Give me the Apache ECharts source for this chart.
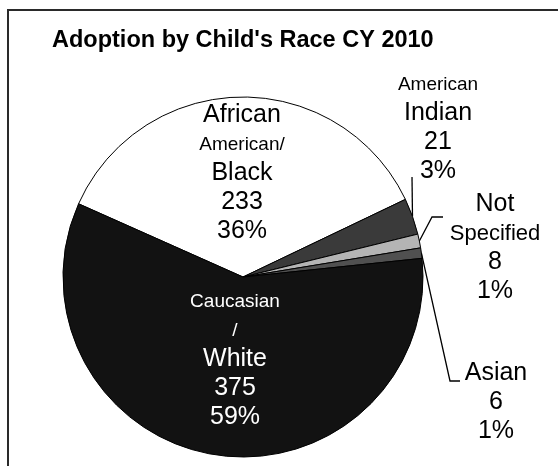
<!DOCTYPE html>
<html>
<head>
<meta charset="utf-8">
<script src="https://cdn.jsdelivr.net/npm/echarts@6/dist/echarts.min.js"></script>
<style>
  html, body { margin: 0; padding: 0; background: #fff; }
  #chart { width: 558px; height: 466px; }
</style>
</head>
<body>
<div id="chart"></div>
<script>
// Adoptions in calendar year 2010, by the child's race
const categories = ['African American/Black', 'American Indian', 'Not Specified', 'Asian', 'Caucasian/White'];
const labelNames = ['African\nAmerican/\nBlack', 'American\nIndian', 'Not\nSpecified', 'Asian', 'Caucasian\n/\nWhite'];
const adoptions = [233, 21, 8, 6, 375];

// Presentation settings (kept apart from the data)
const sliceColors = ['#ffffff', '#3a3a3a', '#b4b4b4', '#505050', '#121212'];
const textColors = ['#000', '#000', '#000', '#000', '#fff'];
const nameLineSizes = [['b', 's', 'b'], ['s', 'b'], ['b', 'm'], ['b'], ['s', 's', 'b']];
const labelAnchors = [[242, 101], [438, 70], [495, 190], [496, 359], [235, 287]];
const leaderBends = [null, [[412, 177], [412, 177]], [[432, 217], [443, 217]], [[450, 381], [460, 381]], null];

const FONT = '"Liberation Sans", Arial, sans-serif';

// Whole-number percentages that add up to 100 (largest remainder method)
function wholePercents(values) {
  const total = values.reduce((a, b) => a + b, 0);
  const exact = values.map(v => v / total * 100);
  const seats = exact.map(Math.floor);
  let left = 100 - seats.reduce((a, b) => a + b, 0);
  const order = exact.map((e, i) => [e - Math.floor(e), i]).sort((a, b) => b[0] - a[0]);
  for (let k = 0; k < left; k++) seats[order[k][1]] += 1;
  return seats;
}
const shares = wholePercents(adoptions);

function richFor(color) {
  return {
    s: { fontSize: 19, lineHeight: 29, color: color, fontFamily: FONT, align: 'center' },
    m: { fontSize: 22, lineHeight: 29, color: color, fontFamily: FONT, align: 'center' },
    b: { fontSize: 25, lineHeight: 29, color: color, fontFamily: FONT, align: 'center' }
  };
}

const data = categories.map((name, i) => ({
  name: name,
  value: adoptions[i],
  itemStyle: { color: sliceColors[i] },
  label: { rich: richFor(textColors[i]) },
  labelLine: { show: leaderBends[i] !== null, lineStyle: { color: '#000', width: 1.3 } }
}));

const chart = echarts.init(document.getElementById('chart'), null, { renderer: 'canvas' });

chart.setOption({
  backgroundColor: '#ffffff',
  animation: false,
  graphic: [
    {
      type: 'rect',
      shape: { x: 8, y: 10, width: 580, height: 500 },
      style: { fill: 'none', stroke: '#2a2a2a', lineWidth: 2 },
      silent: true
    },
    {
      type: 'text',
      left: 52,
      top: 29,
      style: {
        text: "Adoption by Child's Race CY 2010",
        font: 'bold 23.5px ' + FONT,
        fill: '#000'
      }
    }
  ],
  series: [{
    type: 'pie',
    center: [243, 277],
    radius: 180,
    startAngle: 156,
    clockwise: true,
    avoidLabelOverlap: false,
    itemStyle: { borderColor: '#000', borderWidth: 1 },
    label: {
      show: true,
      position: 'outside',
      formatter: function (p) {
        const i = p.dataIndex;
        const lines = labelNames[i].split('\n').map((t, k) => '{' + nameLineSizes[i][k] + '|' + t + '}');
        lines.push('{b|' + p.value + '}');
        lines.push('{b|' + shares[i] + '%}');
        return lines.join('\n');
      }
    },
    labelLine: { length: 10, length2: 10 },
    labelLayout: function (params) {
      const i = params.dataIndex;
      const out = {
        x: labelAnchors[i][0],
        y: labelAnchors[i][1],
        align: 'center',
        verticalAlign: 'top'
      };
      if (leaderBends[i] && params.labelLinePoints) {
        out.labelLinePoints = [params.labelLinePoints[0], leaderBends[i][0], leaderBends[i][1]];
      }
      return out;
    },
    emphasis: { disabled: true },
    data: data
  }]
});
</script>
</body>
</html>
